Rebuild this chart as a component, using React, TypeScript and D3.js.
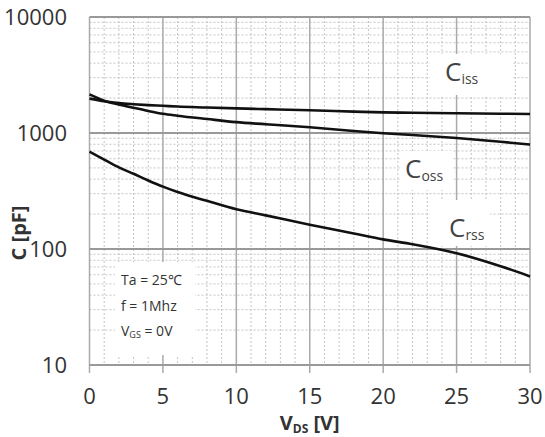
import React from "react";
import * as d3 from "d3";

const vds = [0, 1, 2, 3, 4, 5, 6, 8, 10, 12, 15, 18, 20, 22, 25, 28, 30];
const ciss = [1980, 1880, 1810, 1770, 1740, 1715, 1690, 1660, 1630, 1605, 1570, 1530, 1505, 1495, 1480, 1465, 1460];
const coss = [2150, 1900, 1760, 1650, 1550, 1465, 1410, 1320, 1240, 1190, 1120, 1040, 995, 960, 905, 840, 795];
const crss = [690, 590, 505, 445, 390, 345, 310, 260, 220, 195, 162, 136, 121, 110, 92, 71, 58];

const xTicks = [0, 5, 10, 15, 20, 25, 30];
const yTicks = [10, 100, 1000, 10000];

const W = 545;
const H = 437;
const L = 89.5;
const R = 530;
const T = 17;
const B = 365;

const FONT = "'Open Sans', 'Liberation Sans', sans-serif";

export default function App() {
  const x = d3.scaleLinear().domain([0, 30]).range([L, R]);
  const y = d3.scaleLog().domain([10, 10000]).range([B, T]);

  const line = d3
    .line<number>()
    .x((_, i) => x(vds[i]))
    .y((d) => y(d))
    .curve(d3.curveMonotoneX);

  const minorX = d3.range(0, 31).filter((v) => v % 5 !== 0);
  const minorY: number[] = [];
  [10, 100, 1000].forEach((dec) => {
    for (let k = 2; k <= 9; k++) minorY.push(dec * k);
  });

  return (
    <svg
      width={W}
      height={H}
      style={{ position: "absolute", left: 0, top: 0, background: "#fff" }}
      fontFamily={FONT}
    >
      <rect x={0} y={0} width={W} height={H} fill="#fff" />
      {/* minor grid */}
      <g stroke="#c4c4c4" strokeWidth={1} strokeDasharray="2,2">
        {minorX.map((v) => (
          <line key={"mx" + v} x1={x(v)} x2={x(v)} y1={T} y2={B} />
        ))}
        {minorY.map((v) => (
          <line key={"my" + v} x1={L} x2={R} y1={y(v)} y2={y(v)} />
        ))}
      </g>
      {/* major grid */}
      <g stroke="#aaaaaa" strokeWidth={1.5}>
        {xTicks.map((v) => (
          <line key={"Mx" + v} x1={x(v)} x2={x(v)} y1={T} y2={B + 8} />
        ))}
      </g>
      <g stroke="#999" strokeWidth={2}>
        {yTicks.map((v) => (
          <line key={"My" + v} x1={L} x2={R} y1={y(v)} y2={y(v)} />
        ))}
      </g>
      {/* white boxes behind annotations */}
      <g fill="#fff">
        <rect x={430} y={54} width={82} height={41} />
        <rect x={400} y={151} width={52} height={39} />
        <rect x={430} y={200} width={60} height={46} />
        <rect x={115} y={262} width={80} height={93} />
      </g>
      {/* curves */}
      <g fill="none" stroke="#111" strokeWidth={2.6}>
        <path d={line(ciss) || ""} />
        <path d={line(coss) || ""} />
        <path d={line(crss) || ""} />
      </g>
      {/* y tick labels */}
      <g fontSize={22} fill="#333" textAnchor="end" fontWeight={500}>
        {yTicks.map((v) => (
          <text key={"yl" + v} x={67} y={y(v)} dy="0.36em">
            {v}
          </text>
        ))}
      </g>
      {/* x tick labels */}
      <g fontSize={22} fill="#333" textAnchor="middle" fontWeight={500}>
        {xTicks.map((v) => (
          <text key={"xl" + v} x={x(v)} y={404}>
            {v}
          </text>
        ))}
      </g>
      {/* axis titles */}
      <text x={x(15)} y={430} textAnchor="middle" fontSize={20} fontWeight={700} fill="#333">
        V<tspan fontSize={12} dy={3}>DS</tspan>
        <tspan dy={-3}> [V]</tspan>
      </text>
      <text
        transform={`translate(26,233) rotate(-90)`}
        textAnchor="middle"
        fontSize={20}
        fontWeight={700}
        fill="#333"
      >
        C [pF]
      </text>
      {/* curve labels */}
      <g fill="#444" fontSize={26}>
        <text x={445} y={81}>
          C<tspan fontSize={14} dy={3}>iss</tspan>
        </text>
        <text x={405} y={178}>
          C<tspan fontSize={14} dy={3}>oss</tspan>
        </text>
        <text x={449} y={237}>
          C<tspan fontSize={14} dy={3}>rss</tspan>
        </text>
      </g>
      {/* conditions */}
      <g fill="#333" fontSize={14}>
        <text x={121} y={285}>Ta = 25℃</text>
        <text x={121} y={311}>f = 1Mhz</text>
        <text x={121} y={336}>
          V<tspan fontSize={9} dy={2}>GS</tspan>
          <tspan dy={-2}> = 0V</tspan>
        </text>
      </g>
    </svg>
  );
}
